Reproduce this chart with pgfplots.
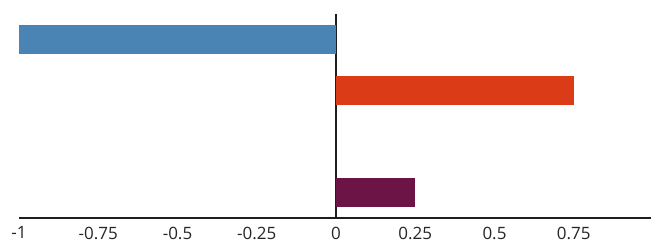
\documentclass[border=0pt]{standalone}
\usepackage{pgfplots}
\pgfplotsset{compat=1.18}
\usepackage{fontspec}
\setmainfont{Open Sans}
\definecolor{cblue}{HTML}{4A84B5}
\definecolor{cred}{HTML}{DB3B16}
\definecolor{cpurple}{HTML}{6D1446}
\definecolor{axline}{HTML}{1E1E1E}
\begin{document}
\begin{tikzpicture}
\begin{axis}[
  at={(19pt,24.5pt)}, anchor=south west,
  scale only axis, width=634pt, height=203.5pt,
  xmin=-1, xmax=1, ymin=-0.5, ymax=3.5,
  xbar, bar width=29pt, bar shift=0pt,
  axis x line=bottom, axis y line=center,
  axis line style={-, axline, line width=2pt},
  xtick={-1,-0.75,-0.5,-0.25,0,0.25,0.5,0.75},
  xticklabels={-1,-0.75,-0.5,-0.25,0,0.25,0.5,0.75},
  ytick=\empty,
  major tick length=0pt,
  xticklabel style={font=\fontsize{17}{20}\selectfont, text=black!85, anchor=north, inner sep=0pt, yshift=-9pt},
  /pgf/number format/assume math mode=true,
  clip=false,
]
\addplot[draw=none, fill=cblue] coordinates {(-1,3)};
\addplot[draw=none, fill=cred] coordinates {(0.75,2)};
\addplot[draw=none, fill=cpurple] coordinates {(0.25,0)};
\end{axis}
\pgfresetboundingbox
\path (0,0) rectangle (651pt,242pt);
\end{tikzpicture}
\end{document}
